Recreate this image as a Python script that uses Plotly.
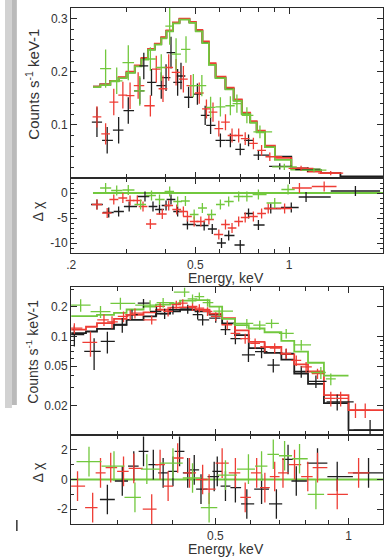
import numpy as np
import plotly.graph_objects as go

W, H = 386, 557

BLACK = '#1e1e1e'
RED = '#ee3d35'
GREEN = '#72c83e'

# ---------------- upper spectrum (linear counts) ----------------
top_model_edges = [0.235, 0.248, 0.267, 0.284, 0.301, 0.320, 0.336, 0.353, 0.371, 0.389,
                   0.404, 0.424, 0.445, 0.479, 0.502, 0.527, 0.553, 0.581, 0.625, 0.664,
                   0.705, 0.750, 0.787, 0.836, 0.900, 1.016, 1.147, 1.264, 1.46, 2.0]
top_model_black = [0.172, 0.176, 0.183, 0.189, 0.199, 0.211, 0.224, 0.242, 0.252, 0.264,
                   0.277, 0.292, 0.299, 0.293, 0.277, 0.255, 0.214, 0.189, 0.168, 0.146,
                   0.121, 0.105, 0.087, 0.059, 0.040, 0.018, 0.015, 0.009, 0.003]
top_model_red = [0.172, 0.176, 0.183, 0.190, 0.200, 0.212, 0.226, 0.243, 0.253, 0.265,
                 0.278, 0.293, 0.300, 0.294, 0.279, 0.257, 0.216, 0.191, 0.170, 0.148,
                 0.123, 0.107, 0.089, 0.061, 0.038, 0.018, 0.012, 0.009]
top_model_green = [0.171, 0.175, 0.182, 0.188, 0.198, 0.210, 0.223, 0.241, 0.251, 0.263,
                   0.276, 0.291, 0.298, 0.292, 0.276, 0.254, 0.213, 0.188, 0.167, 0.145,
                   0.120, 0.104, 0.086, 0.058, 0.034, 0.016, 0.016]

top_green_e = [0.258, 0.280, 0.305, 0.332, 0.359, 0.389, 0.414, 0.434, 0.467, 0.493,
               0.525, 0.560, 0.602, 0.648, 0.680, 0.732, 0.806, 0.965, 1.201]
top_green_v = [0.206, 0.183, 0.217, 0.164, 0.224, 0.208, 0.286, 0.233, 0.242, 0.174,
               0.174, 0.133, 0.134, 0.136, 0.140, 0.118, 0.087, 0.021, 0.015]
top_green_err = [0.036, 0.025, 0.033, 0.028, 0.022, 0.025, 0.035, 0.030, 0.025, 0.022,
                 0.020, 0.020, 0.018, 0.018, 0.017, 0.015, 0.012, 0.006, 0.004]

top_red_e = [0.242, 0.258, 0.274, 0.293, 0.309, 0.328, 0.359, 0.375, 0.394, 0.411,
             0.434, 0.458, 0.484, 0.515, 0.543, 0.570, 0.595, 0.625, 0.656, 0.689,
             0.723, 0.768, 0.816, 0.867, 1.092, 1.359]
top_red_v = [0.115, 0.083, 0.143, 0.156, 0.155, 0.174, 0.136, 0.205, 0.168, 0.208,
             0.199, 0.186, 0.174, 0.160, 0.130, 0.124, 0.093, 0.105, 0.080, 0.080,
             0.074, 0.065, 0.052, 0.040, 0.018, 0.009]
top_red_err = [0.020, 0.020, 0.025, 0.025, 0.025, 0.025, 0.020, 0.025, 0.025, 0.025,
               0.025, 0.025, 0.020, 0.020, 0.018, 0.018, 0.015, 0.015, 0.013, 0.013,
               0.012, 0.011, 0.010, 0.008, 0.005, 0.004]

top_black_e = [0.242, 0.261, 0.284, 0.305, 0.332, 0.342, 0.362, 0.389, 0.403, 0.418,
               0.439, 0.450, 0.476, 0.508, 0.538, 0.560, 0.602, 0.648, 0.697, 0.741,
               0.797, 0.933, 1.147]
top_black_v = [0.105, 0.071, 0.090, 0.127, 0.164, 0.211, 0.180, 0.174, 0.189, 0.236,
               0.180, 0.192, 0.152, 0.158, 0.118, 0.099, 0.071, 0.071, 0.054, 0.071,
               0.043, 0.022, 0.016]
top_black_err = [0.028, 0.025, 0.025, 0.025, 0.025, 0.025, 0.025, 0.025, 0.025, 0.030,
                 0.025, 0.025, 0.020, 0.020, 0.018, 0.016, 0.013, 0.013, 0.011, 0.011,
                 0.009, 0.006, 0.004]

# residuals, upper spectrum
top_res_green_e = [0.258, 0.280, 0.305, 0.334, 0.362, 0.384, 0.414, 0.439, 0.465, 0.496,
                   0.527, 0.564, 0.602, 0.640, 0.689, 0.732, 0.797, 0.899, 0.992]
top_res_green = [1.0, 0.5, 0.6, -2.3, -0.5, -1.3, 0.3, -1.7, -1.6, -4.3,
                 -3.0, -4.3, -2.3, -1.7, -0.7, -0.7, -0.3, -2.0, 0.7]
top_res_red_e = [0.242, 0.261, 0.274, 0.293, 0.309, 0.326, 0.340, 0.359, 0.392, 0.411,
                 0.436, 0.458, 0.472, 0.496, 0.521, 0.553, 0.595, 0.625, 0.656, 0.689,
                 0.723, 0.768, 0.816, 0.857, 0.967, 1.079, 1.295]
top_res_red = [-2.3, -4.0, -1.3, -1.0, -1.5, -1.5, -2.7, -6.2, -4.2, -2.5,
               -3.3, -3.7, -4.7, -5.7, -5.7, -5.3, -8.3, -6.3, -7.0, -5.7,
               -4.9, -4.7, -4.1, -3.1, -3.1, 1.0, 1.3]
top_res_black_e = [0.242, 0.264, 0.284, 0.307, 0.345, 0.366, 0.384, 0.403, 0.418, 0.439,
                   0.472, 0.534, 0.567, 0.607, 0.640, 0.697, 0.741, 0.797, 0.873, 1.016,
                   1.133, 1.631]
top_res_black = [-2.3, -3.9, -3.7, -2.7, -0.7, -2.7, -3.3, -2.5, -1.3, -3.7,
                 -6.3, -6.5, -7.2, -10.0, -8.5, -10.4, -4.1, -6.4, -3.1, -2.9,
                 -0.8, 0.4]

# ---------------- lower spectrum (log counts) ----------------
bot_model_edges = [0.236, 0.255, 0.270, 0.295, 0.315, 0.344, 0.367, 0.395, 0.416, 0.451,
                   0.485, 0.518, 0.554, 0.595, 0.646, 0.705, 0.754, 0.810, 0.880, 1.0, 1.197]
bot_model_black = [0.108, 0.112, 0.119, 0.131, 0.147, 0.159, 0.170, 0.179, 0.186, 0.179,
                   0.166, 0.135, 0.103, 0.076, 0.068, 0.058, 0.042, 0.033, 0.021, 0.0112]
bot_model_red = [0.117, 0.125, 0.136, 0.150, 0.165, 0.175, 0.186, 0.195, 0.197, 0.186,
                 0.170, 0.153, 0.115, 0.088, 0.078, 0.066, 0.052, 0.044, 0.0254, 0.0179]
bot_model_green = [0.160, 0.160, 0.165, 0.173, 0.187, 0.200, 0.210, 0.216, 0.230, 0.233,
                   0.200, 0.150, 0.130, 0.120, 0.110, 0.090, 0.070, 0.054, 0.040]

bot_green_e = [0.248, 0.275, 0.305, 0.356, 0.381, 0.426, 0.444, 0.460, 0.480, 0.510,
               0.589, 0.630, 0.670, 0.723, 0.782, 0.866, 0.912]
bot_green_v = [0.207, 0.178, 0.216, 0.207, 0.220, 0.280, 0.240, 0.253, 0.220, 0.180,
               0.135, 0.130, 0.135, 0.107, 0.082, 0.043, 0.037]
bot_green_err = [0.030, 0.025, 0.030, 0.025, 0.025, 0.030, 0.025, 0.025, 0.020, 0.020,
                 0.015, 0.014, 0.014, 0.012, 0.010, 0.006, 0.005]

bot_red_e = [0.240, 0.261, 0.280, 0.292, 0.310, 0.321, 0.329, 0.359, 0.375, 0.391,
             0.408, 0.422, 0.444, 0.460, 0.480, 0.501, 0.532, 0.555, 0.584, 0.615,
             0.647, 0.681, 0.723, 0.762, 0.802, 0.851, 0.912, 0.960, 1.037, 1.091]
bot_red_v = [0.121, 0.087, 0.147, 0.140, 0.159, 0.166, 0.172, 0.147, 0.201, 0.179,
             0.210, 0.217, 0.201, 0.193, 0.179, 0.159, 0.131, 0.107, 0.095, 0.085,
             0.078, 0.076, 0.067, 0.057, 0.049, 0.042, 0.0235, 0.0235, 0.0179, 0.0179]
bot_red_err = [0.015, 0.025, 0.020, 0.020, 0.020, 0.020, 0.020, 0.015, 0.020, 0.020,
               0.020, 0.020, 0.020, 0.018, 0.018, 0.016, 0.014, 0.012, 0.011, 0.010,
               0.009, 0.009, 0.008, 0.007, 0.006, 0.005, 0.004, 0.004, 0.003, 0.003]

bot_black_e = [0.240, 0.266, 0.285, 0.308, 0.324, 0.344, 0.368, 0.384, 0.401, 0.433,
               0.456, 0.468, 0.501, 0.527, 0.555, 0.594, 0.636, 0.676, 0.723, 0.782,
               0.844, 0.943, 1.119]
bot_black_v = [0.104, 0.0705, 0.089, 0.131, 0.166, 0.217, 0.179, 0.170, 0.186, 0.189,
               0.166, 0.147, 0.153, 0.117, 0.095, 0.065, 0.070, 0.051, 0.067, 0.044,
               0.035, 0.0217, 0.0112]
bot_black_err = [0.025, 0.025, 0.022, 0.022, 0.020, 0.022, 0.020, 0.020, 0.020, 0.020,
                 0.018, 0.018, 0.016, 0.014, 0.012, 0.010, 0.010, 0.008, 0.008, 0.006,
                 0.005, 0.004, 0.003]

bot_res_green_e = [0.259, 0.295, 0.329, 0.350, 0.401, 0.444, 0.484, 0.527, 0.594, 0.636,
                   0.676, 0.717, 0.775, 0.844]
bot_res_green = [1.2, 0.9, -1.2, 0.7, 1.1, 0.1, -1.9, 0.3, 0.7, 0.9,
                 1.7, 1.6, 1.4, -1.0]
bot_res_red_e = [0.244, 0.264, 0.275, 0.290, 0.310, 0.327, 0.359, 0.375, 0.391, 0.411,
                 0.437, 0.468, 0.484, 0.518, 0.555, 0.584, 0.620, 0.647, 0.681, 0.711,
                 0.755, 0.809, 0.851, 0.943, 1.054]
bot_res_red = [-0.45, -1.9, 0.45, 0.8, 0.55, 0.75, -2.0, 1.0, -0.45, 1.45,
               0.45, 0.0, -0.65, 1.1, 0.45, -1.2, 0.45, -0.55, 0.2, 0.45,
               1.0, 0.2, 0.8, -1.0, 0.45]
bot_res_black_e = [0.285, 0.308, 0.327, 0.344, 0.362, 0.381, 0.401, 0.415, 0.433, 0.448,
                   0.464, 0.497, 0.505, 0.527, 0.555, 0.589, 0.636, 0.687, 0.730, 0.762,
                   0.851, 0.943, 1.110]
bot_res_black = [-1.35, -0.1, 0.9, 1.9, 1.0, 0.45, 0.55, 1.9, 0.45, 0.65,
                 -0.65, 0.2, 0.55, -0.45, -0.55, -1.65, -0.65, -1.65, 1.35, -0.1,
                 1.1, 0.2, 0.45]


def px(x):
    return x / W


def py(y):
    return 1 - y / H


def half_widths(e, lo_dex, hi_dex):
    """Bin half widths from the neighbouring points (log spacing)."""
    le = np.log10(np.asarray(e, dtype=float))
    mids = (le[1:] + le[:-1]) / 2
    left = np.concatenate([[2 * le[0] - mids[0]], mids])
    right = np.concatenate([mids, [2 * le[-1] - mids[-1]]])
    dl = np.clip(le - left, lo_dex, hi_dex)
    dr = np.clip(right - le, lo_dex, hi_dex)
    return 10 ** (le + dr) - 10 ** le, 10 ** le - 10 ** (le - dl)


def add_points(fig, e, v, err, color, xa, ya, lo_dex, hi_dex):
    plus, minus = half_widths(e, lo_dex, hi_dex)
    fig.add_trace(go.Scatter(
        x=e, y=v, mode='markers', xaxis=xa, yaxis=ya,
        marker=dict(size=1, color=color),
        error_x=dict(type='data', array=plus, arrayminus=minus, symmetric=False,
                     width=0, thickness=1.3, color=color),
        error_y=dict(type='data', array=err, width=0, thickness=1.3, color=color),
        showlegend=False, hoverinfo='skip'
    ))


def add_model(fig, edges, vals, color, xa, ya):
    fig.add_trace(go.Scatter(
        x=edges[:len(vals) + 1], y=list(vals) + [vals[-1]],
        mode='lines', line=dict(color=color, width=1.8, shape='hv'),
        xaxis=xa, yaxis=ya, showlegend=False, hoverinfo='skip'
    ))


fig = go.Figure()

# upper spectrum
top_models = [(top_model_black, BLACK), (top_model_red, RED), (top_model_green, GREEN)]
for vals, col in top_models:
    add_model(fig, top_model_edges, vals, col, 'x', 'y')

top_sets = [
    (top_black_e, top_black_v, top_black_err, BLACK),
    (top_red_e, top_red_v, top_red_err, RED),
    (top_green_e, top_green_v, top_green_err, GREEN),
]
for e, v, err, col in top_sets:
    add_points(fig, e, v, err, col, 'x', 'y', 0.014, 0.04)

fig.add_trace(go.Scatter(x=[0.235, 2.0], y=[0, 0], mode='lines', xaxis='x2', yaxis='y2',
                         line=dict(color=GREEN, width=1.8), showlegend=False, hoverinfo='skip'))
top_res = [
    (top_res_black_e, top_res_black, BLACK),
    (top_res_red_e, top_res_red, RED),
    (top_res_green_e, top_res_green, GREEN),
]
for e, v, col in top_res:
    add_points(fig, e, v, [1.0] * len(v), col, 'x2', 'y2', 0.014, 0.1)

# lower spectrum
bot_models = [(bot_model_black, BLACK), (bot_model_red, RED), (bot_model_green, GREEN)]
for vals, col in bot_models:
    add_model(fig, bot_model_edges, vals, col, 'x3', 'y3')

bot_sets = [
    (bot_black_e, bot_black_v, bot_black_err, BLACK),
    (bot_red_e, bot_red_v, bot_red_err, RED),
    (bot_green_e, bot_green_v, bot_green_err, GREEN),
]
for e, v, err, col in bot_sets:
    add_points(fig, e, v, err, col, 'x3', 'y3', 0.011, 0.04)

fig.add_trace(go.Scatter(x=[0.236, 1.197], y=[0, 0], mode='lines', xaxis='x4', yaxis='y4',
                         line=dict(color=GREEN, width=1.8), showlegend=False, hoverinfo='skip'))
bot_res = [
    (bot_res_black_e, bot_res_black, BLACK),
    (bot_res_red_e, bot_res_red, RED),
    (bot_res_green_e, bot_res_green, GREEN),
]
for e, v, col in bot_res:
    add_points(fig, e, v, [1.0] * len(v), col, 'x4', 'y4', 0.011, 0.04)

# ---------------- axes ----------------
FONT = dict(family='Liberation Sans, Arial, sans-serif', size=12, color='#333333')
AX = dict(showline=True, linecolor='#2a2a2a', linewidth=1.2, mirror='ticks',
          ticks='inside', ticklen=6, tickcolor='#2a2a2a', showgrid=False,
          zeroline=False, tickfont=FONT)
xdom = [px(67), px(383)]

top_xt = dict(type='log', range=[np.log10(0.2), np.log10(2)], domain=xdom,
              tickvals=[0.2, 0.5, 1, 2], ticktext=['.2', '0.5', '1', '2'],
              minor=dict(tickvals=[0.3, 0.4, 0.6, 0.7, 0.8, 0.9], ticks='inside',
                         ticklen=4, tickcolor='#2a2a2a'))
bot_xt = dict(type='log', range=[np.log10(0.236), np.log10(1.197)], domain=xdom,
              tickvals=[0.5, 1], ticktext=['0.5', '1'],
              minor=dict(tickvals=[0.3, 0.4, 0.6, 0.7, 0.8, 0.9], ticks='inside',
                         ticklen=4, tickcolor='#2a2a2a'))

fig.update_layout(
    width=W, height=H,
    margin=dict(l=0, r=0, t=0, b=0),
    paper_bgcolor='white', plot_bgcolor='white',
    font=FONT,
    xaxis=dict(**AX, **top_xt, anchor='y', showticklabels=False),
    yaxis=dict(**AX, domain=[py(178), py(8)], range=[0, 0.32], anchor='x',
               tickvals=[0.1, 0.2, 0.3], ticktext=['0.1', '0.2', '0.3'],
               minor=dict(dtick=0.02, ticks='inside', ticklen=3, tickcolor='#2a2a2a')),
    xaxis2=dict(**AX, **top_xt, anchor='y2', ticklabelstandoff=0),
    yaxis2=dict(**AX, domain=[py(253), py(178)], range=[-12, 3], anchor='x2',
                tickvals=[0, -5, -10], ticktext=['0', '-5', '-10'],
                minor=dict(dtick=1, ticks='inside', ticklen=3, tickcolor='#2a2a2a')),
    xaxis3=dict(**AX, **bot_xt, anchor='y3', showticklabels=False),
    yaxis3=dict(**AX, type='log', domain=[py(435), py(287)], range=[-2, -0.5], anchor='x3',
                tickvals=[0.02, 0.05, 0.1, 0.2], ticktext=['0.02', '0.05', '0.1', '0.2'],
                minor=dict(tickvals=[0.01, 0.03, 0.04, 0.06, 0.07, 0.08, 0.09, 0.3],
                           ticks='inside', ticklen=3, tickcolor='#2a2a2a')),
    xaxis4=dict(**AX, **bot_xt, anchor='y4', ticklabelstandoff=0),
    yaxis4=dict(**AX, domain=[py(524), py(435)], range=[-3, 3], anchor='x4',
                tickvals=[-2, 0, 2], ticktext=['-2', '0', '2'],
                minor=dict(tickvals=[-1, 1], ticks='inside', ticklen=3, tickcolor='#2a2a2a')),
)

# axis titles placed by hand
TITLE = dict(family='Liberation Sans, Arial, sans-serif', size=14, color='#333333')
titles = [
    ('Counts s<sup>-1</sup> keV-1', 27, 84, -90, 15),
    ('\u0394 \u03c7', 33, 212, -90, 14),
    ('Energy, keV', 224, 278, 0, 14),
    ('Counts s<sup>-1</sup> keV-1', 27, 352, -90, 14),
    ('\u0394 \u03c7', 33, 473, -90, 14),
    ('Energy, keV', 224, 549, 0, 14),
]
for text, x, y, ang, size in titles:
    fig.add_annotation(text=text, x=px(x), y=py(y), xref='paper', yref='paper',
                       showarrow=False, textangle=ang, font=dict(TITLE, size=size),
                       xanchor='center', yanchor='middle')

# grey page-shadow strip at the left edge and a stray mark
fig.add_shape(type='rect', xref='paper', yref='paper', x0=0, x1=px(7), y0=py(408), y1=1,
              fillcolor='#d2d2d2', line_width=0, layer='below')
fig.add_shape(type='rect', xref='paper', yref='paper', x0=px(7), x1=px(12), y0=py(405), y1=1,
              fillcolor='#a9a9a9', line_width=0, layer='below', opacity=0.8)
fig.add_shape(type='line', xref='paper', yref='paper', x0=px(12), x1=px(12), y0=py(520), y1=py(531),
              line=dict(color='#333333', width=1.5))

# the page body has a default margin; drop it so the figure sits at the window corner
fig.write_html("out.html", config={'displayModeBar': False},
               post_script="document.body.style.margin='0px';"
                           "document.body.style.overflow='hidden';")
